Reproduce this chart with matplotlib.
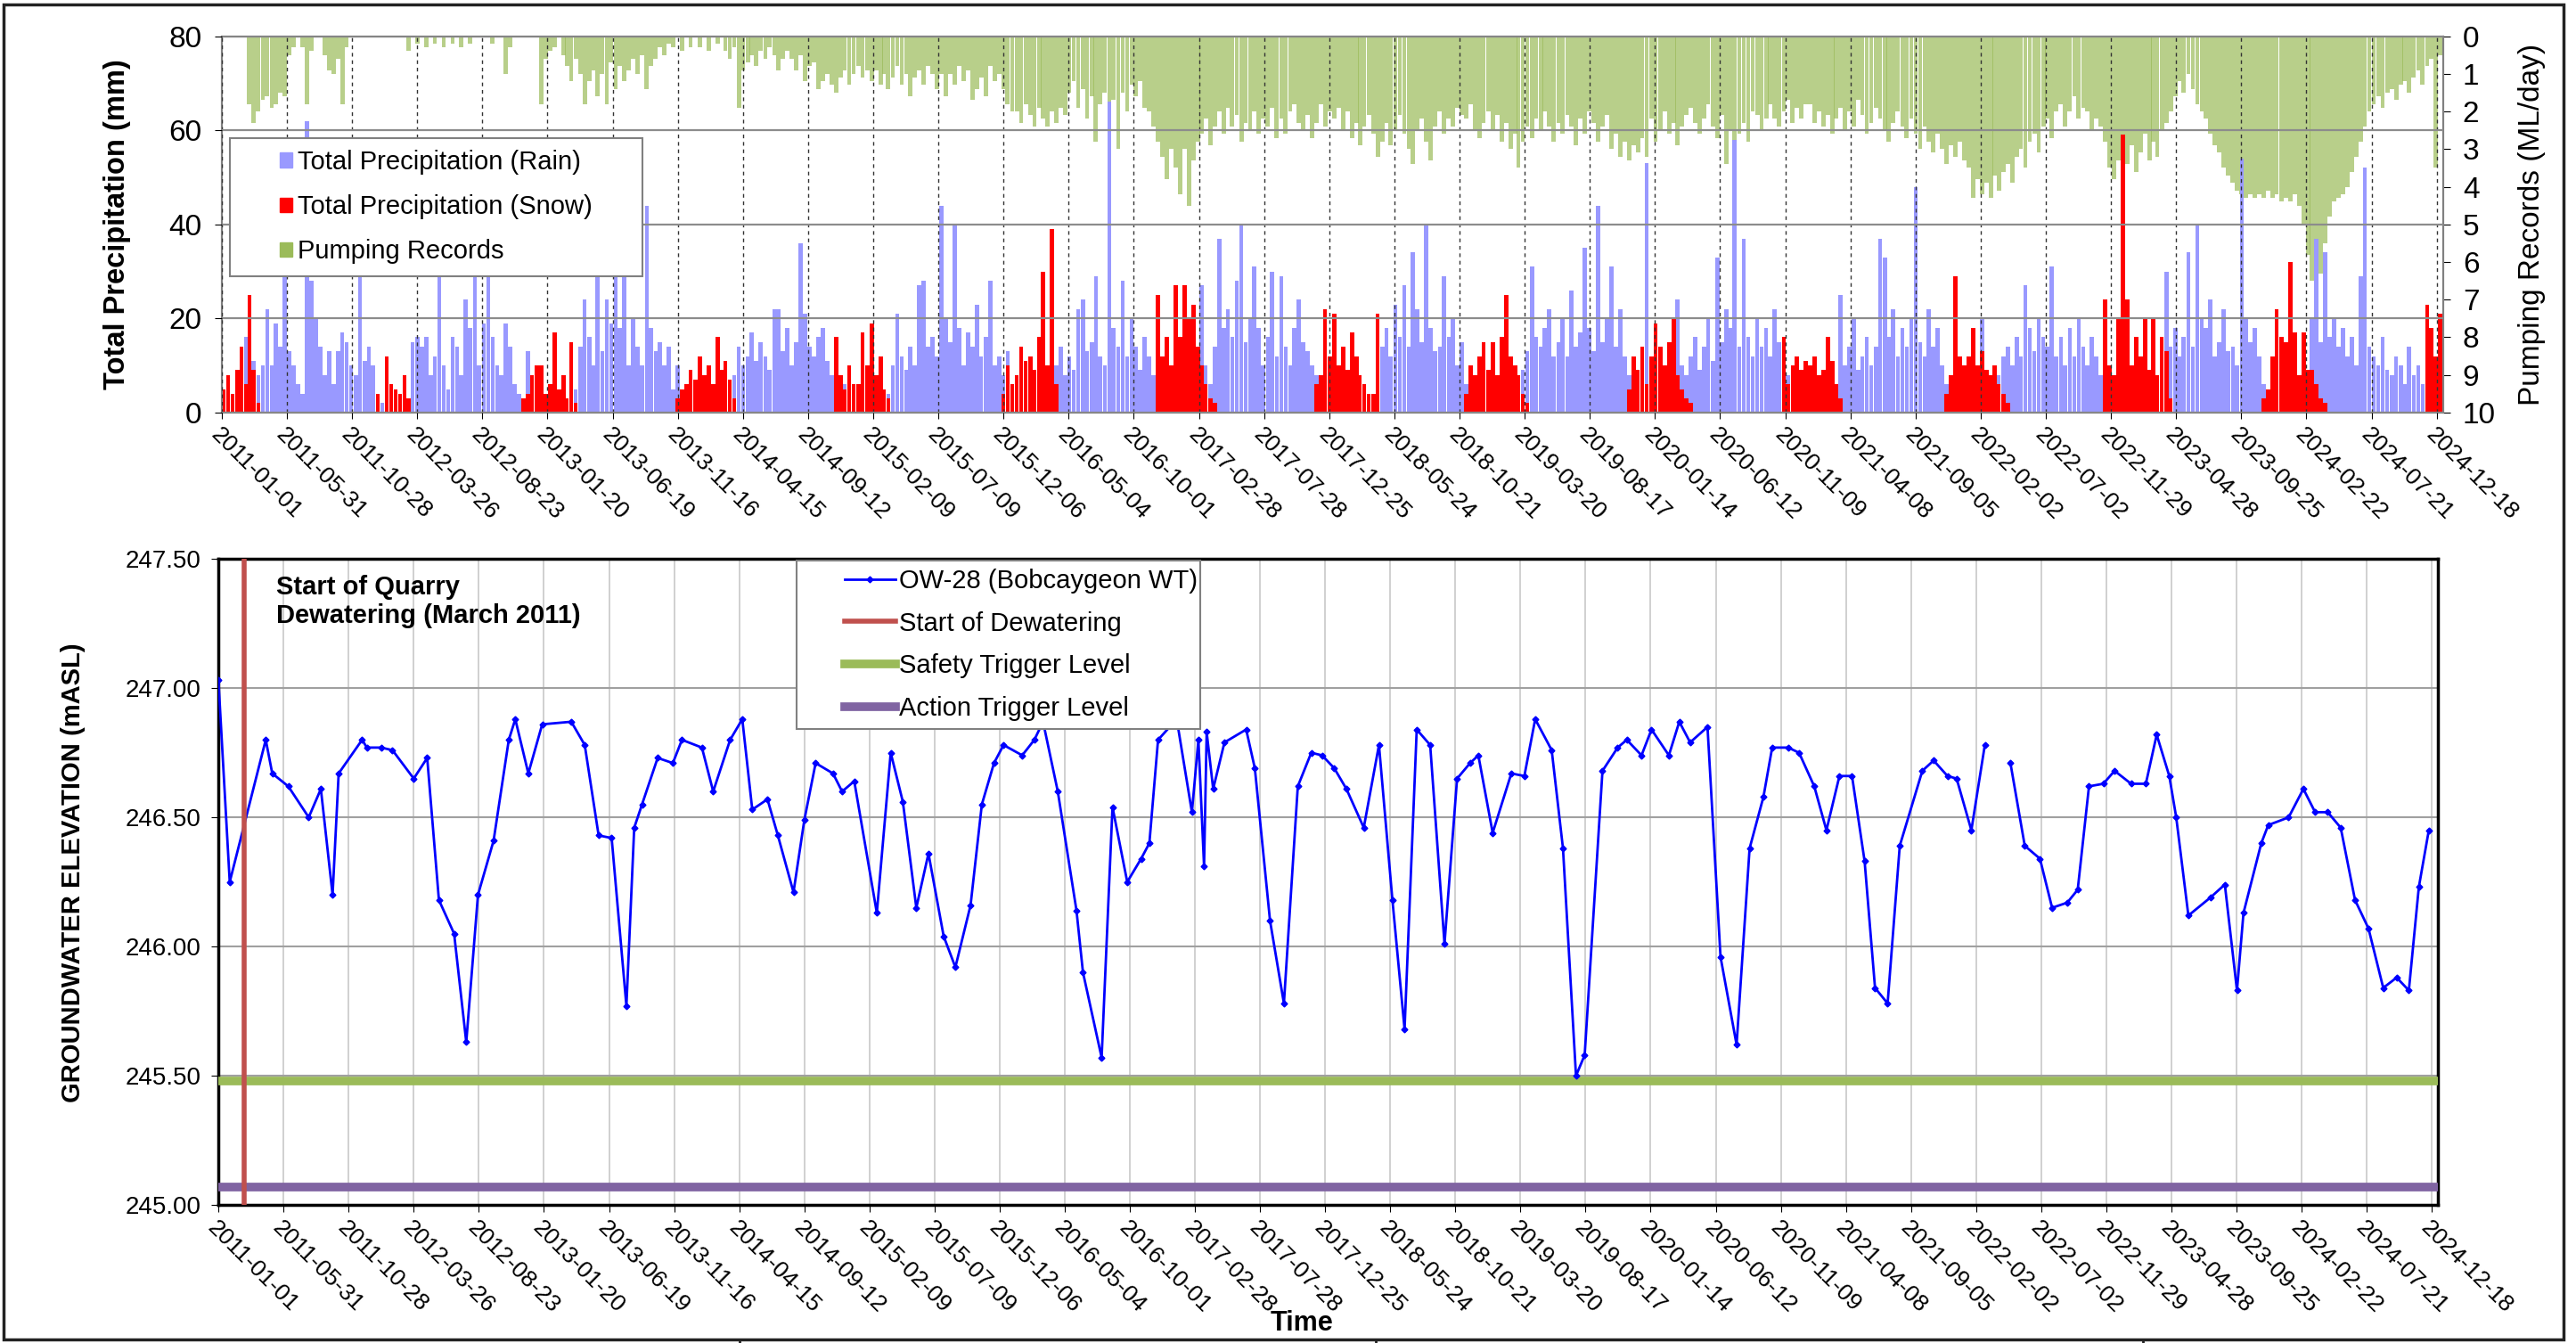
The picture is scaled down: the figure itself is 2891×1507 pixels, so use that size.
import numpy as np
import pandas as pd
import matplotlib
matplotlib.use("Agg")
import matplotlib.pyplot as plt
import matplotlib.dates as mdates
import matplotlib.patches as mpatches
from matplotlib.lines import Line2D
from matplotlib.legend_handler import HandlerPatch, HandlerLine2D

plt.rcParams['font.family'] = ['Liberation Sans', 'DejaVu Sans']

# ── data ─────────────────────────────────────────────────────────────────────
years = list(range(2011, 2025))

# daily peak in each 10-day period (3 per month), mm
rain_mm = [
    0, 2, 3, 2, 4, 16, 6, 11, 8, 10, 22, 10, 19, 14, 35, 13, 10, 6, 4, 62, 28, 20, 14, 8, 13, 6, 13, 17, 15, 10, 8, 30, 11, 14, 10, 4,    # 2011
    2, 1, 0, 1, 0, 0, 2, 15, 16, 14, 16, 8, 12, 32, 10, 5, 16, 14, 8, 24, 18, 32, 10, 19, 33, 16, 10, 8, 19, 14, 6, 4, 3, 13, 2, 1,       # 2012
    3, 1, 2, 0, 2, 1, 1, 3, 5, 14, 24, 16, 10, 30, 13, 24, 19, 30, 18, 30, 10, 20, 14, 10, 44, 18, 13, 15, 10, 14, 5, 10, 4, 2, 1, 0,   # 2013
    1, 0, 2, 0, 1, 0, 0, 2, 8, 14, 10, 12, 17, 11, 15, 12, 9, 22, 22, 13, 18, 10, 15, 36, 21, 14, 12, 16, 18, 11, 8, 3, 2, 6, 2, 1,     # 2014
    2, 0, 1, 0, 0, 1, 2, 4, 10, 21, 12, 9, 14, 10, 27, 28, 14, 16, 12, 44, 20, 15, 40, 18, 10, 17, 14, 23, 12, 16, 28, 10, 12, 8, 13, 5, # 2015
    1, 2, 0, 0, 3, 0, 2, 0, 4, 10, 14, 8, 12, 9, 22, 24, 13, 15, 29, 12, 10, 66, 18, 14, 28, 12, 20, 14, 9, 16, 12, 8, 3, 2, 1, 4,       # 2016
    3, 2, 1, 0, 2, 4, 27, 10, 6, 14, 37, 18, 22, 16, 28, 40, 15, 20, 31, 18, 10, 16, 30, 12, 29, 14, 10, 18, 24, 15, 13, 10, 8, 3, 1, 0, # 2017
    2, 0, 3, 0, 4, 1, 2, 6, 0, 3, 10, 14, 18, 12, 23, 16, 27, 14, 34, 22, 15, 40, 18, 13, 14, 29, 16, 20, 10, 15, 6, 3, 2, 4, 2, 1,      # 2018
    3, 1, 2, 0, 2, 0, 4, 9, 13, 31, 16, 14, 18, 22, 12, 15, 20, 12, 26, 14, 17, 35, 18, 13, 44, 15, 20, 31, 14, 22, 12, 8, 10, 5, 3, 53, # 2019
    4, 2, 1, 1, 0, 2, 24, 10, 8, 12, 16, 9, 14, 20, 11, 33, 15, 22, 18, 58, 14, 37, 16, 12, 20, 14, 18, 12, 22, 15, 5, 8, 3, 2, 4, 1,    # 2020
    2, 1, 3, 0, 1, 2, 6, 25, 10, 14, 20, 9, 12, 16, 10, 14, 37, 33, 16, 22, 12, 18, 14, 20, 48, 15, 12, 22, 14, 18, 10, 6, 4, 3, 2, 1,   # 2021
    2, 1, 0, 20, 3, 1, 4, 8, 12, 14, 10, 16, 12, 27, 18, 13, 20, 16, 14, 31, 12, 16, 10, 18, 12, 20, 14, 10, 16, 12, 8, 4, 2, 2, 1, 0,   # 2022
    3, 2, 1, 0, 2, 3, 1, 2, 4, 30, 14, 18, 12, 16, 34, 14, 40, 20, 18, 24, 12, 15, 22, 13, 14, 10, 54, 20, 15, 18, 12, 6, 4, 3, 2, 4,    # 2023
    3, 2, 1, 4, 10, 8, 20, 37, 15, 34, 16, 20, 14, 18, 12, 16, 10, 29, 52, 14, 12, 10, 16, 9, 8, 12, 10, 6, 14, 8, 10, 6, 3, 2, 1, 4,    # 2024
]

snow_mm = [
    5, 8, 4, 9, 14, 6, 25, 9, 2, 0, 0, 0, 0, 0, 0, 0, 0, 0, 0, 0, 0, 0, 0, 0, 0, 0, 0, 0, 0, 0, 0, 0, 0, 0, 0, 4,          # 2011
    0, 12, 6, 5, 4, 8, 3, 0, 0, 0, 0, 0, 0, 0, 0, 0, 0, 0, 0, 0, 0, 0, 0, 0, 0, 0, 0, 0, 0, 0, 0, 0, 3, 4, 8, 10,         # 2012
    10, 4, 6, 17, 5, 8, 3, 15, 2, 0, 0, 0, 0, 0, 0, 0, 0, 0, 0, 0, 0, 0, 0, 0, 0, 0, 0, 0, 0, 0, 0, 3, 5, 6, 9, 7,        # 2013
    12, 8, 10, 6, 16, 9, 11, 7, 3, 0, 0, 0, 0, 0, 0, 0, 0, 0, 0, 0, 0, 0, 0, 0, 0, 0, 0, 0, 0, 0, 0, 16, 8, 5, 10, 6,     # 2014
    6, 17, 10, 19, 8, 12, 5, 3, 0, 0, 0, 0, 0, 0, 0, 0, 0, 0, 0, 0, 0, 0, 0, 0, 0, 0, 0, 0, 0, 0, 0, 0, 0, 4, 10, 6,      # 2015
    8, 14, 11, 12, 9, 16, 30, 10, 39, 6, 0, 0, 0, 0, 0, 0, 0, 0, 0, 0, 0, 0, 0, 0, 0, 0, 0, 0, 0, 0, 0, 0, 25, 12, 16, 10, # 2016
    27, 16, 27, 20, 23, 14, 10, 6, 3, 2, 0, 0, 0, 0, 0, 0, 0, 0, 0, 0, 0, 0, 0, 0, 0, 0, 0, 0, 0, 0, 0, 0, 6, 8, 22, 12,  # 2017
    21, 10, 14, 9, 17, 12, 8, 6, 4, 4, 21, 0, 0, 0, 0, 0, 0, 0, 0, 0, 0, 0, 0, 0, 0, 0, 0, 0, 0, 0, 4, 10, 8, 12, 15, 9,  # 2018
    15, 8, 16, 25, 12, 10, 8, 4, 2, 0, 0, 0, 0, 0, 0, 0, 0, 0, 0, 0, 0, 0, 0, 0, 0, 0, 0, 0, 0, 0, 0, 5, 12, 9, 14, 6,    # 2019
    12, 19, 14, 10, 15, 20, 8, 5, 3, 2, 0, 0, 0, 0, 0, 0, 0, 0, 0, 0, 0, 0, 0, 0, 0, 0, 0, 0, 0, 0, 16, 6, 10, 12, 9, 11, # 2020
    10, 12, 8, 9, 16, 11, 6, 3, 0, 0, 0, 0, 0, 0, 0, 0, 0, 0, 0, 0, 0, 0, 0, 0, 0, 0, 0, 0, 0, 0, 0, 4, 8, 29, 12, 10,    # 2021
    12, 18, 10, 13, 9, 8, 10, 6, 4, 2, 0, 0, 0, 0, 0, 0, 0, 0, 0, 0, 0, 0, 0, 0, 0, 0, 0, 0, 0, 0, 0, 24, 10, 8, 20, 59,  # 2022
    24, 10, 16, 12, 20, 9, 20, 8, 16, 13, 3, 0, 0, 0, 0, 0, 0, 0, 0, 0, 0, 0, 0, 0, 0, 0, 0, 0, 0, 0, 0, 3, 5, 12, 22, 16, # 2023
    15, 32, 17, 8, 17, 9, 9, 6, 3, 2, 0, 0, 0, 0, 0, 0, 0, 0, 0, 0, 0, 0, 0, 0, 0, 0, 0, 0, 0, 0, 0, 0, 23, 18, 12, 21,   # 2024
]

# peak daily pumping in each 10-day period, ML/day
pump_mld = [
    0, 0, 0, 0, 0, 0, 1.8, 2.3, 2.0, 1.7, 1.6, 1.9, 1.8, 1.5, 1.6, 0.5, 0.3, 0, 0.3, 1.8, 0.4, 0, 0, 0.5, 0.9, 1.0, 0.6, 1.8, 0.3, 0, 0, 0, 0, 0, 0, 0,   # 2011
    0, 0, 0, 0, 0, 0, 0.4, 0, 0.2, 0, 0.3, 0, 0.2, 0, 0.3, 0, 0.2, 0, 0.3, 0, 0.2, 0, 0, 0, 0, 0.2, 0, 0, 1.0, 0.3, 0, 0, 0, 0, 0, 0,                      # 2012
    1.8, 0.6, 0.4, 0.3, 0, 0.5, 0.8, 1.2, 0.6, 1.0, 1.8, 1.2, 0.9, 1.6, 1.0, 1.8, 0.7, 1.4, 0.8, 1.2, 0.9, 0.6, 1.0, 0.5, 1.4, 0.8, 0.6, 0.3, 0.5, 0.2, 0.3, 0, 0.4, 0, 0.3, 0,  # 2013
    0.3, 0, 0.4, 0, 0.2, 0, 0.4, 0.6, 0.3, 1.9, 0.9, 0.7, 0.5, 0.8, 0.4, 0.6, 0.3, 0.5, 0.9, 0.6, 0.4, 0.6, 0.9, 0.5, 1.2, 0.8, 0.7, 1.4, 1.2, 1.0, 1.3, 1.5, 1.1, 0.9, 1.3, 1.0,  # 2014
    0.8, 1.1, 0.9, 1.2, 0.9, 1.3, 1.0, 1.4, 1.1, 0.8, 1.3, 1.0, 1.6, 1.1, 0.9, 1.3, 0.8, 1.0, 1.4, 1.0, 1.6, 1.0, 1.3, 0.8, 1.2, 0.9, 1.7, 1.4, 1.1, 1.6, 0.8, 1.2, 1.0, 1.4, 1.8, 2.0,  # 2015
    2.0, 2.3, 1.8, 2.1, 2.4, 1.9, 2.2, 2.4, 2.0, 2.3, 1.9, 2.1, 1.5, 1.2, 1.9, 1.4, 2.2, 1.6, 2.8, 1.8, 1.5, 2.1, 1.7, 3.0, 1.5, 2.0, 1.3, 1.6, 1.2, 1.9, 2.0, 2.4, 2.8, 3.2, 3.8, 3.0,  # 2016
    3.5, 4.2, 3.0, 4.5, 3.3, 2.8, 2.6, 2.2, 2.9, 2.4, 2.0, 2.6, 1.9, 2.4, 2.1, 2.8, 2.3, 2.5, 2.0, 2.6, 2.2, 2.4, 1.9, 2.7, 2.2, 2.6, 2.0, 1.8, 2.3, 2.5, 2.1, 2.7, 2.3, 1.8, 2.4, 2.0,  # 2017
    2.2, 1.9, 2.5, 2.0, 2.7, 2.3, 2.9, 2.4, 2.1, 2.6, 3.2, 2.8, 2.3, 2.9, 2.5, 2.1, 2.6, 3.0, 3.4, 2.5, 2.2, 2.8, 3.3, 2.4, 2.0, 2.6, 2.2, 2.4, 1.9, 2.1, 2.2, 1.8, 2.5, 2.7, 2.3, 2.0,  # 2018
    2.5, 2.1, 2.8, 2.3, 3.0, 2.6, 3.5, 2.8, 2.4, 2.7, 2.2, 2.5, 2.0, 2.4, 2.8, 2.3, 2.6, 2.1, 2.4, 2.9, 2.2, 2.6, 2.0, 2.3, 2.8, 2.4, 2.1, 3.0, 2.6, 3.2, 2.8, 3.3, 2.9, 3.1, 2.7, 3.2,  # 2019
    2.2, 2.8, 2.5, 2.0, 2.6, 2.3, 2.9, 2.4, 2.1, 1.9, 2.3, 2.6, 2.2, 1.8, 2.4, 2.7, 2.1, 3.4, 2.5, 3.1, 2.6, 2.3, 2.8, 2.0, 2.1, 2.5, 2.2, 1.8, 2.2, 2.4, 2.0, 1.7, 2.3, 1.9, 2.2, 1.8,  # 2020
    1.8, 2.3, 2.0, 2.4, 2.1, 2.6, 2.2, 1.9, 2.5, 2.0, 2.4, 1.7, 2.1, 2.6, 2.3, 1.9, 2.2, 2.5, 2.8, 2.3, 2.0, 2.4, 2.7, 2.2, 2.6, 3.0, 2.4, 2.8, 3.1, 2.6, 3.0, 3.4, 2.9, 3.2, 2.8, 3.3,  # 2021
    3.5, 4.3, 3.8, 4.2, 3.9, 4.3, 3.7, 4.1, 3.6, 3.4, 3.9, 3.2, 3.0, 3.5, 2.8, 2.6, 3.1, 2.4, 2.2, 2.7, 2.0, 1.8, 2.4, 2.0, 1.6, 2.2, 1.9, 2.0, 2.5, 2.2, 2.4, 2.8, 3.5, 3.8, 3.3, 4.0,  # 2022
    3.4, 2.9, 3.6, 3.1, 2.6, 3.3, 2.8, 3.2, 2.5, 2.3, 2.0, 1.6, 1.2, 1.5, 1.0, 1.4, 1.8, 2.0, 2.2, 2.6, 2.9, 3.1, 3.5, 3.7, 3.9, 4.1, 4.2, 4.3, 4.2, 4.3, 4.2, 4.3, 4.1, 4.3, 4.2, 4.4,  # 2023
    4.3, 4.4, 4.2, 4.5, 5.0, 5.8, 6.5, 6.8, 6.3, 5.5, 4.8, 4.4, 4.3, 4.2, 4.0, 3.6, 3.2, 2.8, 2.4, 2.0, 1.8, 1.6, 1.9, 1.5, 1.4, 1.7, 1.3, 1.2, 1.5, 1.1, 0.9, 1.3, 0.8, 0.6, 3.5, 0.5,  # 2024
]

# OW-28 manual levels: days after 2011-01-01 and elevation (mASL)
gw_day = [
    0, 26, 109, 124, 161, 208, 236, 263, 277, 331, 342, 375, 401, 450, 481, 508, 543, 571, 598, 634,
    669, 684, 714, 746, 813, 844, 876, 906, 940, 958, 976, 1012, 1047, 1068, 1114, 1140, 1179, 1207, 1230, 1265,
    1289, 1325, 1350, 1376, 1416, 1437, 1465, 1517, 1549, 1577, 1608, 1636, 1671, 1698, 1733, 1759, 1787, 1809, 1852, 1880,
    1900, 1934, 1977, 1992, 2035, 2060, 2094, 2126, 2145, 2165, 2208, 2243, 2258, 2271, 2277, 2292, 2318, 2368, 2388, 2423,
    2455, 2487, 2518, 2543, 2571, 2599, 2639, 2674, 2705, 2733, 2761, 2792, 2825, 2854, 2884, 2903, 2936, 2979, 3009, 3034,
    3072, 3098, 3128, 3148, 3189, 3224, 3245, 3279, 3302, 3342, 3366, 3391, 3431, 3461, 3498, 3528, 3560, 3580, 3617, 3642,
    3677, 3705, 3735, 3764, 3793, 3817, 3846, 3874, 3926, 3952, 3984, 4005, 4039, 4070, 4100, 4129, 4162, 4197, 4225, 4260,
    4284, 4310, 4343, 4369, 4407, 4441, 4466, 4495, 4511, 4539, 4590, 4623, 4651, 4666, 4707, 4723, 4770, 4804, 4831, 4860,
    4890, 4923, 4954, 4988, 5019, 5047, 5070, 5093,
]
gw_elev = [
    247.03, 246.25, 246.80, 246.67, 246.62, 246.50, 246.61, 246.20, 246.67, 246.80, 246.77, 246.77, 246.76, 246.65, 246.73, 246.18, 246.05, 245.63, 246.20, 246.41,
    246.80, 246.88, 246.67, 246.86, 246.87, 246.78, 246.43, 246.42, 245.77, 246.46, 246.55, 246.73, 246.71, 246.80, 246.77, 246.60, 246.80, 246.88, 246.53, 246.57,
    246.43, 246.21, 246.49, 246.71, 246.67, 246.60, 246.64, 246.13, 246.75, 246.56, 246.15, 246.36, 246.04, 245.92, 246.16, 246.55, 246.71, 246.78, 246.74, 246.80,
    246.87, 246.60, 246.14, 245.90, 245.57, 246.54, 246.25, 246.34, 246.40, 246.80, 246.88, 246.52, 246.80, 246.31, 246.83, 246.61, 246.79, 246.84, 246.69, 246.10,
    245.78, 246.62, 246.75, 246.74, 246.69, 246.61, 246.46, 246.78, 246.18, 245.68, 246.84, 246.78, 246.01, 246.65, 246.71, 246.74, 246.44, 246.67, 246.66, 246.88,
    246.76, 246.38, 245.50, 245.58, 246.68, 246.77, 246.80, 246.74, 246.84, 246.74, 246.87, 246.79, 246.85, 245.96, 245.62, 246.38, 246.58, 246.77, 246.77, 246.75,
    246.62, 246.45, 246.66, 246.66, 246.33, 245.84, 245.78, 246.39, 246.68, 246.72, 246.66, 246.65, 246.45, 246.78, np.nan, 246.71, 246.39, 246.34, 246.15, 246.17,
    246.22, 246.62, 246.63, 246.68, 246.63, 246.63, 246.82, 246.66, 246.50, 246.12, 246.19, 246.24, 245.83, 246.13, 246.40, 246.47, 246.50, 246.61, 246.52, 246.52,
    246.46, 246.18, 246.07, 245.84, 245.88, 245.83, 246.23, 246.45,
]

dewater_date = pd.Timestamp('2011-03-01')
safety_level = 245.48
action_level = 245.07

# ── derived positions ────────────────────────────────────────────────────────
start = pd.Timestamp('2011-01-01')
end = pd.Timestamp('2025-01-01')

dek_dates = []
for y in years:
    for m in range(1, 13):
        for off in (4.5, 14.5, 25.0):
            dek_dates.append(pd.Timestamp(y, m, 1) + pd.Timedelta(days=off))
xd = mdates.date2num(dek_dates)

gw_x = mdates.date2num([start + pd.Timedelta(days=d) for d in gw_day])

tick_dates = pd.date_range('2011-01-01', '2024-12-18', freq='150D')
xt = mdates.date2num(tick_dates)
tick_labels = [d.strftime('%Y-%m-%d') for d in tick_dates]
x0, x1 = mdates.date2num([start, end])

RAIN = '#9999ff'
SNOW = '#ff0000'
PUMP = '#9bbb59'


def rotate_dates(axis):
    for lab in axis.get_xticklabels():
        lab.set_rotation(-45)
        lab.set_ha('left')
        lab.set_va('top')
        lab.set_rotation_mode('anchor')


fig = plt.figure(figsize=(28.91, 15.07), dpi=100)

# ── top panel: precipitation + pumping ──────────────────────────────────────
ax = fig.add_axes([0.0861, 0.6928, 0.8622, 0.2803])
axp = ax.twinx()
ax.set_zorder(2)
axp.set_zorder(1)
ax.patch.set_visible(False)

axp.bar(xd, pump_mld, width=9.8, color=PUMP, alpha=0.7, linewidth=0)
axp.set_ylim(10, 0)
axp.set_yticks(range(0, 11))
axp.tick_params(axis='y', labelsize=24, length=6, pad=10, colors='black')
axp.set_ylabel('Pumping Records (ML/day)', fontsize=24)
axp.yaxis.set_label_coords(1.034, 0.5)

ax.bar(xd, rain_mm, width=9.5, color=RAIN, linewidth=0, label='Total Precipitation (Rain)')
ax.bar(xd, snow_mm, width=9.5, color=SNOW, linewidth=0, label='Total Precipitation (Snow)')
ax.set_ylim(0, 80)
ax.set_yticks([0, 20, 40, 60, 80])
ax.set_xlim(x0, x1)
ax.set_xticks(xt)
ax.set_xticklabels(tick_labels)
ax.tick_params(axis='y', labelsize=24, length=6, pad=10)
ax.tick_params(axis='x', labelsize=19, length=5, pad=4)
rotate_dates(ax)
ax.set_axisbelow(False)
ax.grid(axis='y', color='#8c8c8c', lw=1.6)
ax.grid(axis='x', color='#333333', lw=1.0, ls=(0, (3, 3)))
ax.set_ylabel('Total Precipitation (mm)', fontsize=23.5, fontweight='bold')
ax.yaxis.set_label_coords(-0.0407, 0.5)
for a in (ax, axp):
    for s in a.spines.values():
        s.set_color('#808080')
        s.set_linewidth(1.5)

top_handles = [mpatches.Patch(color=RAIN), mpatches.Patch(color=SNOW), mpatches.Patch(color=PUMP)]
top_labels = ['Total Precipitation (Rain)', 'Total Precipitation (Snow)', 'Pumping Records']
leg = ax.legend(top_handles, top_labels, loc='upper left', mode='expand',
                bbox_to_anchor=(0.0037, 0.3755, 0.1857, 0.3535), borderaxespad=0, fontsize=21,
                handlelength=1.95, handleheight=0.5, handletextpad=0.2,
                borderpad=0.45, labelspacing=0.76, fancybox=False, framealpha=1,
                edgecolor='#808080', handler_map={mpatches.Patch: HandlerPatch(xpad=1.45)})
leg.get_frame().set_linewidth(1.5)

# ── bottom panel: groundwater elevation ─────────────────────────────────────
axb = fig.add_axes([0.0848, 0.1028, 0.8616, 0.481])
axb.plot(gw_x, gw_elev, color='#0000ff', lw=2, marker='D', ms=3.5, zorder=4,
         label='OW-28 (Bobcaygeon WT)')
axb.axvline(mdates.date2num(dewater_date), color='#c0504d', lw=4, zorder=5,
            label='Start of Dewatering')
axb.axhline(safety_level, color=PUMP, lw=7, zorder=3, label='Safety Trigger Level')
axb.axhline(action_level, color='#8064a2', lw=7, zorder=3, label='Action Trigger Level')

axb.set_xlim(x0, x1)
axb.set_ylim(245.0, 247.5)
axb.set_yticks(np.arange(245.0, 247.51, 0.5))
axb.yaxis.set_major_formatter(plt.FormatStrFormatter('%.2f'))
axb.set_xticks(xt)
axb.set_xticklabels(tick_labels)
axb.tick_params(axis='y', labelsize=20, length=6, pad=8)
axb.tick_params(axis='x', labelsize=19, length=6, pad=4)
rotate_dates(axb)
axb.grid(axis='x', color='#c8c8c8', lw=1.2)
axb.grid(axis='y', color='#a0a0a0', lw=1.5)
axb.set_axisbelow(True)
for s in axb.spines.values():
    s.set_color('black')
    s.set_linewidth(2.5)

axb.set_ylabel('GROUNDWATER ELEVATION (mASL)', fontsize=21, fontweight='bold')
axb.yaxis.set_label_coords(-0.060, 0.514)
axb.set_xlabel('Time', fontsize=22, fontweight='bold')
axb.xaxis.set_label_coords(0.488, -0.163)

axb.text(0.0259, 0.975, 'Start of Quarry\nDewatering (March 2011)', transform=axb.transAxes,
         fontsize=21, fontweight='bold', ha='left', va='top', linespacing=1.15)

lg = axb.legend(loc='upper left', mode='expand', bbox_to_anchor=(0.2605, 0.748, 0.182, 0.2495),
                borderaxespad=0, fontsize=21, handlelength=3.5, handletextpad=0.15, borderpad=0.3,
                labelspacing=0.68, fancybox=False, framealpha=1, edgecolor='#808080',
                handler_map={Line2D: HandlerLine2D(xpad=1.54)})
lg.get_frame().set_linewidth(1.5)

# ── page frame ──────────────────────────────────────────────────────────────
fig.add_artist(mpatches.Rectangle((0.0014, 0.0025), 0.9936, 0.9945, transform=fig.transFigure,
                                  fill=False, edgecolor='#222222', linewidth=2.5))
for xf in (0.287, 0.534, 0.832):
    fig.add_artist(Line2D([xf, xf], [0.0, 0.0025], transform=fig.transFigure, color='#222222', lw=2))

fig.savefig('out.png', dpi=100)
